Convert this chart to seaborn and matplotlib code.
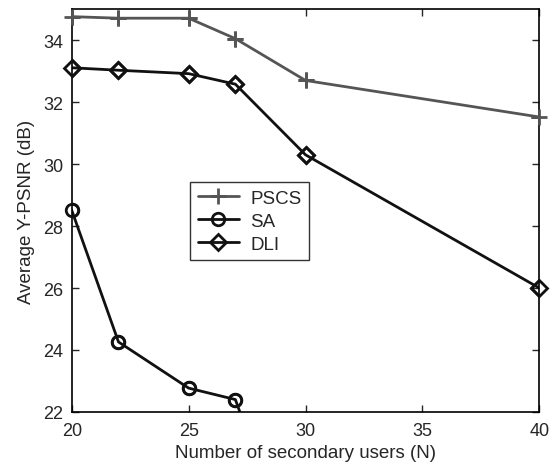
import numpy as np
import pandas as pd
import matplotlib
matplotlib.use("Agg")
import matplotlib.pyplot as plt
import seaborn as sns

sns.set_style("ticks")
plt.rcParams["font.family"] = ["Liberation Sans", "DejaVu Sans"]

users = [20, 22, 25, 27, 30, 40]
pscs = [34.76, 34.71, 34.71, 34.05, 32.70, 31.52]
sa = [28.51, 24.26, 22.77, 22.40, 16.1]
dli = [33.11, 33.03, 32.92, 32.58, 30.30, 26.00]

df = pd.concat([
    pd.DataFrame({"N": users, "psnr": pscs, "method": "PSCS"}),
    pd.DataFrame({"N": users[:len(sa)], "psnr": sa, "method": "SA"}),
    pd.DataFrame({"N": users, "psnr": dli, "method": "DLI"}),
])

fig = plt.figure(figsize=(5.53, 4.64), dpi=100)
ax = fig.add_axes([0.1297, 0.110, 0.8456, 0.868])
ylo, yhi = 22, 35

styles = {
    "PSCS": dict(color="#555555", marker="+", ms=11, mew=2, mfc="#555555"),
    "SA": dict(color="#111111", marker="o", ms=9, mew=2, mfc="none"),
    "DLI": dict(color="#111111", marker="D", ms=8, mew=2, mfc="none"),
}
for name, st in styles.items():
    sub = df[df["method"] == name]
    sns.lineplot(data=sub, x="N", y="psnr", ax=ax, label=name, lw=2,
                 color=st["color"], marker=st["marker"], markersize=st["ms"],
                 markeredgewidth=st["mew"], markerfacecolor=st["mfc"],
                 markeredgecolor=st["color"])
    # markers on the frame are not cut off, like in matlab
    inside = sub[(sub["psnr"] >= ylo) & (sub["psnr"] <= yhi)]
    ax.plot(inside["N"], inside["psnr"], ls="none", marker=st["marker"],
            ms=st["ms"], mew=st["mew"], mfc=st["mfc"], mec=st["color"],
            clip_on=False, zorder=5)

ax.set_xlim(20, 40)
ax.set_ylim(ylo, yhi)
ax.set_xticks([20, 25, 30, 35, 40])
ax.set_yticks([22, 24, 26, 28, 30, 32, 34])
ax.tick_params(direction="in", top=True, right=True, labelsize=13, length=5, width=1)
ax.tick_params(axis="x", pad=7)
ax.tick_params(axis="y", pad=6)
for s in ax.spines.values():
    s.set_linewidth(1.2)
    s.set_color("black")
ax.set_xlabel("Number of secondary users (N)", fontsize=13.5, labelpad=4)
ax.set_ylabel("Average Y-PSNR (dB)", fontsize=13.5, labelpad=6)

leg = ax.legend(loc="upper left", bbox_to_anchor=(0.253, 0.570), fontsize=13.5,
                frameon=True, fancybox=False, edgecolor="black", handlelength=2.2,
                handletextpad=0.6, borderpad=0.4, labelspacing=0.3,
                borderaxespad=0)
leg.get_frame().set_linewidth(1.0)

fig.savefig("out.png", dpi=100)
